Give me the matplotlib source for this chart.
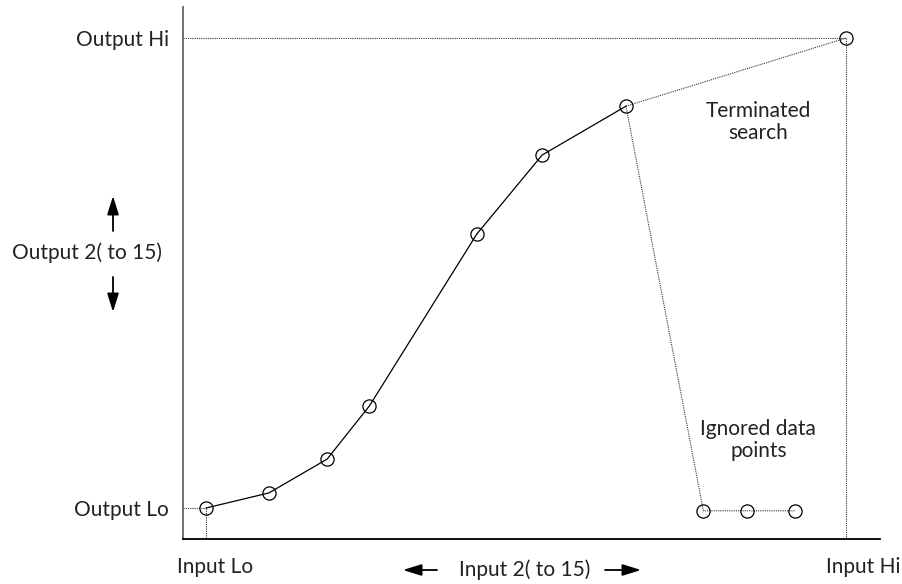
import matplotlib.pyplot as plt
from matplotlib.patches import FancyArrowPatch

plt.rcParams['font.family'] = ['Lato', 'DejaVu Sans']

# calibration curve points (Input Lo = 0, Input Hi = 100, Output Lo = 0, Output Hi = 100)
curve_x = [0, 9.8, 18.9, 25.5, 42.3, 52.5, 65.6]
curve_y = [0, 3.2, 10.4, 21.7, 58.3, 75.1, 85.5]
hi_x, hi_y = 100, 100
ignored_x = [77.7, 84.5, 92.0]
ignored_y = [-0.6, -0.6, -0.6]

W, H = 903, 584
fig = plt.figure(figsize=(W / 100, H / 100), dpi=100)
ax = fig.add_axes([182.5 / W, 1 - 539 / H, (880 - 182.5) / W, (539 - 7) / H])
ax.set_xlim(-3.7, 105.3)
ax.set_ylim(-6.6, 106.6)

dot = dict(color='#333333', lw=0.8, linestyle=(0, (1, 1)))
mk = dict(marker='o', markersize=9.5, markerfacecolor='none', markeredgecolor='black', markeredgewidth=0.9)

# guide lines
ax.plot([-3.7, hi_x], [hi_y, hi_y], **dot)
ax.plot([hi_x, hi_x], [hi_y, -6.6], **dot)
ax.plot([-3.7, curve_x[0]], [curve_y[0], curve_y[0]], **dot)
ax.plot([curve_x[0], curve_x[0]], [curve_y[0], -6.6], **dot)

# terminated search and ignored points
ax.plot([curve_x[-1], hi_x], [curve_y[-1], hi_y], **dot)
ax.plot([curve_x[-1]] + ignored_x, [curve_y[-1]] + ignored_y, **dot)
ax.plot(ignored_x, ignored_y, linestyle='none', **mk)
ax.plot([hi_x], [hi_y], linestyle='none', **mk)

# main curve
ax.plot(curve_x, curve_y, color='black', lw=0.9, **mk)

for s in ['top', 'right']:
    ax.spines[s].set_visible(False)
ax.spines['left'].set_color('#666666')
ax.spines['left'].set_linewidth(1.3)
ax.spines['bottom'].set_color('black')
ax.spines['bottom'].set_linewidth(1.3)

fs = 15
ax.set_yticks([0, 100], ['Output Lo', 'Output Hi'])
ax.set_xticks([])
ax.tick_params(axis='y', length=0, pad=10, labelsize=fs, colors='#222222')

def fpos(x, y):
    return x / W, 1 - y / H

fig.text(*fpos(215, 567), 'Input Lo', ha='center', va='center', fontsize=fs, color='#222222')
fig.text(*fpos(863, 567), 'Input Hi', ha='center', va='center', fontsize=fs, color='#222222')
fig.text(*fpos(525, 570), 'Input 2( to 15)', ha='center', va='center', fontsize=fs, color='#222222')
fig.text(*fpos(87, 253), 'Output 2( to 15)', ha='center', va='center', fontsize=fs, color='#222222')
ax.text(86.3, 82.1, 'Terminated\nsearch', ha='center', va='center', fontsize=fs, color='#222222', linespacing=1.15)
ax.text(86.3, 14.5, 'Ignored data\npoints', ha='center', va='center', fontsize=fs, color='#222222', linespacing=1.15)

arrow = dict(arrowstyle='-|>,head_length=0.8,head_width=0.25', mutation_scale=14,
             color='black', lw=1.3, shrinkA=0, shrinkB=0)
for (x0, y0), (x1, y1) in [((437, 570), (403, 570)), ((605, 570), (641, 570)),
                           ((113, 231), (113, 196)), ((113, 277), (113, 312))]:
    fig.add_artist(FancyArrowPatch(fpos(x0, y0), fpos(x1, y1), transform=fig.transFigure, **arrow))

fig.savefig('out.png', dpi=100)
